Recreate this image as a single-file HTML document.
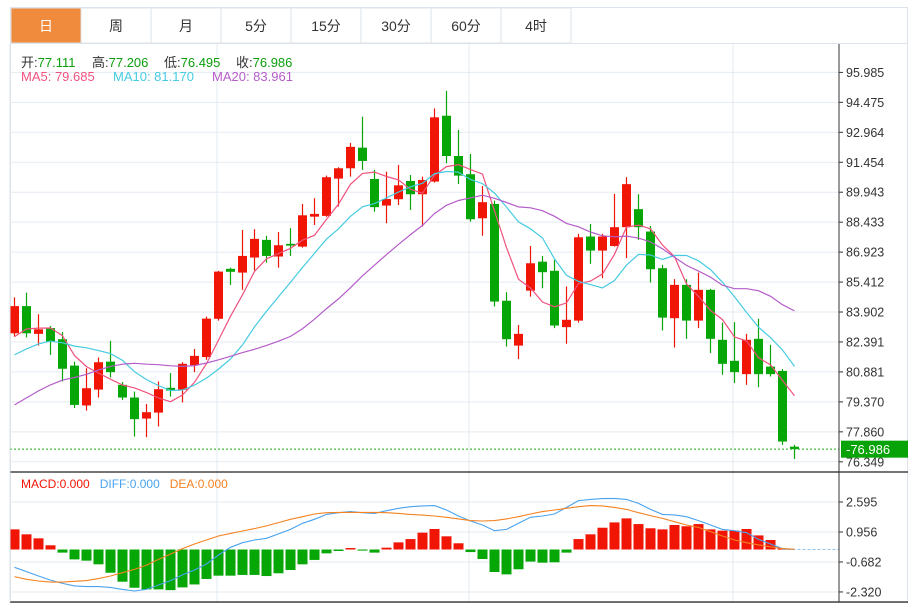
<!DOCTYPE html>
<html><head><meta charset="utf-8"><style>
html,body{margin:0;padding:0;background:#fff;}
body{width:918px;height:605px;overflow:hidden;font-family:"Liberation Sans","Noto Sans CJK SC",sans-serif;position:relative;}
svg text{font-family:"Liberation Sans","Noto Sans CJK SC",sans-serif;}
.lg{position:absolute;white-space:nowrap;font-family:"Liberation Sans","Noto Sans CJK SC",sans-serif;}
</style></head><body>
<svg id="chart" width="918" height="605" xmlns="http://www.w3.org/2000/svg">
<rect x="0" y="0" width="918" height="605" fill="#fff"/>
<g id="tabs"></g>
<g id="grid"></g>
<g id="candles"></g>
<g id="mas"></g>
<g id="macd"></g>
<g id="axis"></g>
</svg>
<script>
const priorCloses=[75.8,76.0,76.3,76.2,76.6,76.9,77.0,77.2,77.4,77.6,79.8,80.5,81.0,81.9,80.9,80.9,82.8,82.4,83.0];
const opens=[82.83,84.20,82.80,83.09,82.53,81.20,79.19,79.99,81.40,80.23,79.59,78.53,78.83,80.08,79.98,81.22,81.63,83.56,86.08,85.89,86.65,87.54,86.70,87.34,87.20,88.71,88.75,90.63,91.15,92.19,90.61,89.27,89.59,90.51,89.84,90.48,93.80,91.77,90.85,88.63,89.35,84.47,82.21,84.98,86.44,85.98,83.14,83.47,87.71,87.00,87.23,88.18,89.09,87.96,86.11,83.59,85.27,83.47,85.02,82.50,81.44,80.77,82.55,81.15,80.93,77.111];
const highs=[84.64,84.88,83.79,83.20,82.89,81.40,81.07,81.61,82.45,80.37,79.89,79.26,80.40,80.82,81.37,82.04,83.67,85.98,86.14,88.04,88.08,87.74,87.94,88.13,89.35,89.64,90.78,91.20,92.43,93.75,91.07,90.98,91.32,90.81,90.73,94.17,95.05,93.08,91.87,90.26,89.52,84.90,83.25,87.23,86.73,86.53,85.19,87.84,88.34,87.84,89.86,90.70,89.84,88.24,86.28,85.56,85.56,85.89,85.07,83.37,83.39,82.80,83.56,82.25,81.03,77.206];
const lows=[82.66,82.62,82.21,81.74,80.40,79.06,78.93,79.59,80.60,79.47,77.62,77.59,78.13,79.64,79.34,80.87,81.49,83.47,85.27,85.02,86.00,86.39,86.14,86.73,87.15,88.29,88.70,89.22,90.73,91.07,88.96,88.38,89.30,89.05,88.21,90.43,91.40,90.36,88.46,87.75,84.18,82.16,81.53,84.68,85.10,83.09,82.30,83.37,86.33,85.61,87.20,86.62,87.54,85.39,82.97,82.11,82.55,83.09,81.83,80.74,80.32,80.23,80.11,80.65,77.20,76.495];
const closes=[84.20,82.83,83.03,82.41,81.04,79.22,80.06,81.37,80.87,79.59,78.50,78.85,80.01,79.94,81.29,81.69,83.57,85.94,85.93,86.73,87.59,86.73,87.27,87.25,88.78,88.85,90.70,91.15,92.23,91.52,89.19,89.60,90.29,89.84,90.56,93.72,91.77,90.78,88.58,89.44,84.43,82.53,82.80,86.36,85.91,83.22,83.51,87.67,87.00,87.71,88.18,90.35,88.18,86.06,83.62,85.27,83.47,85.02,82.55,81.29,80.87,82.50,80.77,80.77,77.37,76.986];
const macdHist=[1.10,0.83,0.61,0.23,-0.17,-0.54,-0.61,-0.81,-1.27,-1.76,-2.09,-2.18,-2.18,-2.22,-2.07,-1.91,-1.61,-1.43,-1.43,-1.39,-1.39,-1.45,-1.30,-1.12,-0.81,-0.57,-0.21,-0.08,0.08,-0.06,-0.17,0.10,0.39,0.57,0.92,1.12,0.72,0.34,-0.14,-0.52,-1.23,-1.36,-1.08,-0.66,-0.72,-0.70,-0.17,0.57,0.83,1.19,1.48,1.70,1.39,1.16,1.10,1.34,1.27,1.39,1.10,1.03,1.03,1.12,0.77,0.52,0.05,0];
const diffVals=[-0.97,-1.21,-1.45,-1.67,-1.85,-1.99,-2.03,-2.03,-2.07,-2.18,-2.27,-2.18,-1.94,-1.70,-1.39,-1.12,-0.79,-0.30,0.12,0.37,0.52,0.61,0.85,1.10,1.43,1.65,1.92,2.01,2.07,2.01,1.97,2.12,2.25,2.34,2.38,2.40,2.16,1.83,1.56,1.34,1.03,1.10,1.43,1.76,1.83,1.94,2.30,2.67,2.74,2.78,2.79,2.74,2.52,2.19,1.92,1.89,1.79,1.58,1.34,1.10,1.03,0.92,0.56,0.30,0.05,0.01];
const deaVals=[-1.48,-1.63,-1.72,-1.78,-1.78,-1.74,-1.70,-1.59,-1.45,-1.27,-1.09,-0.85,-0.54,-0.25,0.05,0.30,0.52,0.74,0.88,1.01,1.14,1.29,1.47,1.65,1.79,1.94,2.01,2.03,2.03,2.03,2.03,2.01,1.97,1.92,1.88,1.83,1.76,1.67,1.58,1.56,1.58,1.67,1.79,1.94,2.07,2.16,2.25,2.34,2.40,2.38,2.30,2.19,2.01,1.85,1.70,1.52,1.34,1.21,0.97,0.74,0.52,0.37,0.25,0.15,0.05,0.01];
const priceTicks=[95.985,94.475,92.964,91.454,89.943,88.433,86.923,85.412,83.902,82.391,80.881,79.370,77.860,76.349];
const macdTicks=[2.595,0.956,-0.682,-2.320];
const tabLabels=["日","周","月","5分","15分","30分","60分","4时"];

const NS="http://www.w3.org/2000/svg";
function mk(parent,tag,attrs,text){const e=document.createElementNS(NS,tag);for(const k in attrs)e.setAttribute(k,attrs[k]);if(text!==undefined)e.textContent=text;parent.appendChild(e);return e;}
const RED="#f01505",GREEN="#05a605";
const L=10,R=839;
const pMax=95.985,pMin=76.349,pTop=72.4,pBot=461.8;
function py(v){return pTop+(pMax-v)*(pBot-pTop)/(pMax-pMin);}
function cx(i){return 14.5+12*i;}
const mZero=549.5,mScale=18.3;
function my(v){return mZero-v*mScale;}

const tabs=document.getElementById('tabs');
mk(tabs,'rect',{x:10.5,y:7.5,width:897,height:595,fill:'none',stroke:'#dde3ea'});
tabLabels.forEach((t,i)=>{
  const g=mk(tabs,'g',{});
  
  
  const x=11+i*70;
  mk(g,'rect',{x:x,y:8,width:70,height:35,fill:i===0?'#f08a3c':'#fff',stroke:'#dde3ea','stroke-width':1});
  mk(g,'text',{x:x+35,y:31,'text-anchor':'middle','font-size':14,fill:i===0?'#fff':'#333'},t);
});
mk(tabs,'line',{x1:10,y1:43.5,x2:908,y2:43.5,stroke:'#dde3ea'});

const grid=document.getElementById('grid');
priceTicks.forEach(v=>{mk(grid,'line',{x1:L,x2:R,y1:py(v),y2:py(v),stroke:'#e3ebf2','stroke-width':1});});
[217,469,733].forEach(x=>{mk(grid,'line',{x1:x,x2:x,y1:44,y2:602,stroke:'#e3ebf2'});});
macdTicks.forEach(v=>{mk(grid,'line',{x1:L,x2:R,y1:my(v),y2:my(v),stroke:'#e3ebf2'});});

const cg=document.getElementById('candles');
opens.forEach((o,i)=>{
  const c=closes[i],up=c>=o,col=up?RED:GREEN,x=cx(i);
  const g=mk(cg,'g',{});
  
  
  mk(g,'line',{x1:x,x2:x,y1:py(highs[i]),y2:py(lows[i]),stroke:col,'stroke-width':1.2});
  const t=py(Math.max(o,c)),b=py(Math.min(o,c));
  mk(g,'rect',{x:x-4.5,y:t,width:9,height:Math.max(1.5,b-t),fill:col});
});
mk(cg,'line',{x1:L,x2:R,y1:py(closes[closes.length-1]),y2:py(closes[closes.length-1]),stroke:'#19b219','stroke-dasharray':'2,2','stroke-width':1});

const all=priorCloses.concat(closes);
function ma(n){return closes.map((_,i)=>{const e=priorCloses.length+i;let s=0;for(let k=e-n+1;k<=e;k++)s+=all[k];return s/n;});}
const mg=document.getElementById('mas');
[[5,'#f0527e','ma5-line'],[10,'#45cbe2','ma10-line'],[20,'#b55dc9','ma20-line']].forEach(([n,col,name])=>{
  const vals=ma(n);
  const p=mk(mg,'polyline',{points:vals.map((v,i)=>cx(i)+','+py(v).toFixed(1)).join(' '),fill:'none',stroke:col,'stroke-width':1.2});
  
  
});

const mc=document.getElementById('macd');
macdHist.forEach((v,i)=>{
  if(Math.abs(v)<0.005)return;
  const r=mk(mc,'rect',{x:cx(i)-5,y:Math.min(my(v),mZero),width:10,height:Math.max(1,Math.abs(v)*mScale),fill:v>=0?RED:GREEN});
  
  
});
mk(mc,'line',{x1:cx(macdHist.length-2),x2:R,y1:mZero,y2:mZero,stroke:'#8fc4ee','stroke-dasharray':'3,2'});
const dl=mk(mc,'polyline',{points:diffVals.map((v,i)=>cx(i)+','+my(v).toFixed(1)).join(' '),fill:'none',stroke:'#4aa3ef','stroke-width':1.1});


const de=mk(mc,'polyline',{points:deaVals.map((v,i)=>cx(i)+','+my(v).toFixed(1)).join(' '),fill:'none',stroke:'#f58220','stroke-width':1.1});


mk(mc,'line',{x1:10,x2:908,y1:472,y2:472,stroke:'#222','stroke-width':1.2});
mk(mc,'line',{x1:10,x2:908,y1:602,y2:602,stroke:'#222','stroke-width':1.2});

const ax=document.getElementById('axis');
mk(ax,'line',{x1:R,x2:R,y1:44,y2:602,stroke:'#333','stroke-width':1});
mk(ax,'line',{x1:L,x2:L,y1:44,y2:602,stroke:'#dde3ea','stroke-width':1});
priceTicks.forEach(v=>{const y=py(v);mk(ax,'line',{x1:R,x2:R+4,y1:y,y2:y,stroke:'#333'});
  const t=mk(ax,'text',{x:R+7,y:y+4.5,'font-size':12.5,fill:'#333'},v.toFixed(3));
  
  });
macdTicks.forEach(v=>{const y=my(v);mk(ax,'line',{x1:R,x2:R+4,y1:y,y2:y,stroke:'#333'});
  const t=mk(ax,'text',{x:R+7,y:y+4.5,'font-size':12.5,fill:'#333'},v.toFixed(3));
  
  });
const ly=py(closes[closes.length-1]);
const pb=mk(ax,'rect',{x:R+2,y:ly-8.5,width:67,height:17,fill:'#07a307'});


mk(ax,'text',{x:R+7,y:ly+5,'font-size':13,fill:'#fff'},'-76.986');
</script>
<div class="lg" style="left:21px;top:52px;font-size:13px;color:#333">开:<span style="color:#0a9f0a">77.111</span></div>
<div class="lg" style="left:92px;top:52px;font-size:13px;color:#333">高:<span style="color:#0a9f0a">77.206</span></div>
<div class="lg" style="left:164px;top:52px;font-size:13px;color:#333">低:<span style="color:#0a9f0a">76.495</span></div>
<div class="lg" style="left:236px;top:52px;font-size:13px;color:#333">收:<span style="color:#0a9f0a">76.986</span></div>
<div class="lg" style="left:21px;top:69px;font-size:13px;color:#f0527e">MA5: 79.685</div>
<div class="lg" style="left:113px;top:69px;font-size:13px;color:#45cbe2">MA10: 81.170</div>
<div class="lg" style="left:212px;top:69px;font-size:13px;color:#b55dc9">MA20: 83.961</div>
<div class="lg" style="left:21px;top:477px;font-size:12px"><span style="color:#f01505">MACD:0.000</span>&nbsp;&nbsp; <span style="color:#4aa3ef">DIFF:0.000</span>&nbsp;&nbsp; <span style="color:#f58220">DEA:0.000</span></div>
</body></html>
